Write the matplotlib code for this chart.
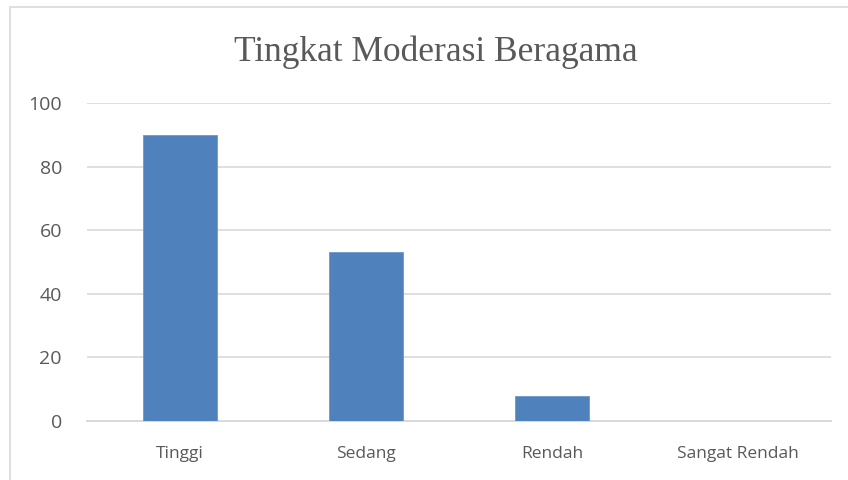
import matplotlib
matplotlib.use("Agg")
import matplotlib.pyplot as plt
from matplotlib.patches import Rectangle

categories = ["Tinggi", "Sedang", "Rendah", "Sangat Rendah"]
values = [90, 53, 8, 0]
yticks = [0, 20, 40, 60, 80, 100]
title = "Tingkat Moderasi Beragama"

W, H = 848, 480
fig = plt.figure(figsize=(W/100, H/100), dpi=100)
fig.patch.set_facecolor("white")

# outer chart frame
fig.patches.append(Rectangle((10/W, -0.1), 1.2, 1.1 - 7/H, transform=fig.transFigure,
                             fill=False, edgecolor="#D9D9D9", linewidth=1.2))

left, right = 87/W, 831/W
bottom, top = 1 - 421/H, 1 - 103/H
ax = fig.add_axes([left, bottom, right - left, top - bottom])

x = list(range(len(categories)))
ax.bar(x, values, width=0.4, color="#4F81BD", edgecolor="#6D97CC", linewidth=0.6, zorder=3)
ax.set_xlim(-0.5, len(categories) - 0.5)
ax.set_ylim(0, 100)
ax.set_yticks(yticks)
ax.set_xticks(x)
ax.set_xticklabels(categories)
ax.grid(axis="y", color="#D9D9D9", linewidth=1.2, zorder=0)
for s in ["top", "right", "left"]:
    ax.spines[s].set_visible(False)
ax.spines["bottom"].set_color("#D9D9D9")
ax.spines["bottom"].set_linewidth(1.4)
ax.tick_params(axis="both", length=0, colors="#595959")
ax.tick_params(axis="y", pad=18, labelsize=14)
ax.tick_params(axis="x", pad=18, labelsize=12.5)
for lbl in ax.get_xticklabels() + ax.get_yticklabels():
    lbl.set_fontfamily("Open Sans")
    lbl.set_color("#595959")

fig.text(435.5/W, 1 - 52/H, title, ha="center", va="center", fontsize=25.5,
         fontfamily="Liberation Serif", color="#595959")

fig.savefig("out.png", dpi=100)
